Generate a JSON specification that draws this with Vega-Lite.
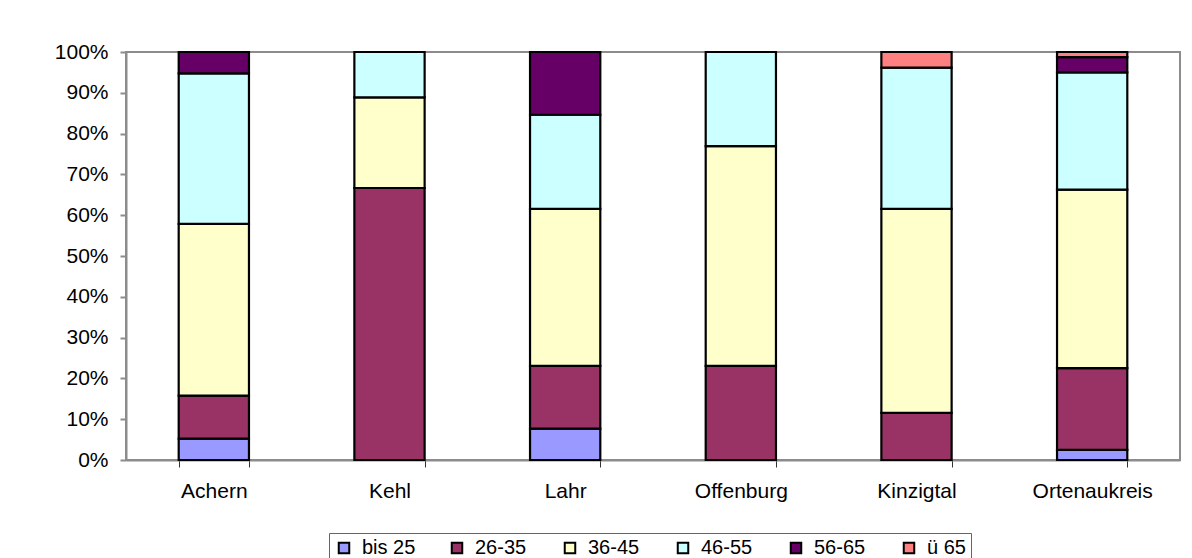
{
  "$schema": "https://vega.github.io/schema/vega-lite/v6.json",
  "width": 1054,
  "height": 408,
  "autosize": "none",
  "padding": {"left": 126, "top": 52, "right": 12, "bottom": 98},
  "background": "white",
  "datasets": {
    "gruppen": [
      {"Altersgruppe": "bis 25", "Rang": 1},
      {"Altersgruppe": "26-35", "Rang": 2},
      {"Altersgruppe": "36-45", "Rang": 3},
      {"Altersgruppe": "46-55", "Rang": 4},
      {"Altersgruppe": "56-65", "Rang": 5},
      {"Altersgruppe": "ü 65", "Rang": 6}
    ],
    "teilnehmer": [
      {"Region": "Achern", "Altersgruppe": "bis 25", "Anzahl": 1},
      {"Region": "Achern", "Altersgruppe": "26-35", "Anzahl": 2},
      {"Region": "Achern", "Altersgruppe": "36-45", "Anzahl": 8},
      {"Region": "Achern", "Altersgruppe": "46-55", "Anzahl": 7},
      {"Region": "Achern", "Altersgruppe": "56-65", "Anzahl": 1},
      {"Region": "Kehl", "Altersgruppe": "26-35", "Anzahl": 6},
      {"Region": "Kehl", "Altersgruppe": "36-45", "Anzahl": 2},
      {"Region": "Kehl", "Altersgruppe": "46-55", "Anzahl": 1},
      {"Region": "Lahr", "Altersgruppe": "bis 25", "Anzahl": 1},
      {"Region": "Lahr", "Altersgruppe": "26-35", "Anzahl": 2},
      {"Region": "Lahr", "Altersgruppe": "36-45", "Anzahl": 5},
      {"Region": "Lahr", "Altersgruppe": "46-55", "Anzahl": 3},
      {"Region": "Lahr", "Altersgruppe": "56-65", "Anzahl": 2},
      {"Region": "Offenburg", "Altersgruppe": "26-35", "Anzahl": 3},
      {"Region": "Offenburg", "Altersgruppe": "36-45", "Anzahl": 7},
      {"Region": "Offenburg", "Altersgruppe": "46-55", "Anzahl": 3},
      {"Region": "Kinzigtal", "Altersgruppe": "26-35", "Anzahl": 3},
      {"Region": "Kinzigtal", "Altersgruppe": "36-45", "Anzahl": 13},
      {"Region": "Kinzigtal", "Altersgruppe": "46-55", "Anzahl": 9},
      {"Region": "Kinzigtal", "Altersgruppe": "ü 65", "Anzahl": 1},
      {"Region": "Ortenaukreis", "Altersgruppe": "bis 25", "Anzahl": 2},
      {"Region": "Ortenaukreis", "Altersgruppe": "26-35", "Anzahl": 16},
      {"Region": "Ortenaukreis", "Altersgruppe": "36-45", "Anzahl": 35},
      {"Region": "Ortenaukreis", "Altersgruppe": "46-55", "Anzahl": 23},
      {"Region": "Ortenaukreis", "Altersgruppe": "56-65", "Anzahl": 3},
      {"Region": "Ortenaukreis", "Altersgruppe": "ü 65", "Anzahl": 1}
    ]
  },
  "data": {"name": "teilnehmer"},
  "transform": [
    {
      "lookup": "Altersgruppe",
      "from": {"data": {"name": "gruppen"}, "key": "Altersgruppe", "fields": ["Rang"]}
    }
  ],
  "mark": {"type": "bar", "stroke": "black", "strokeWidth": 2.2, "opacity": 1},
  "encoding": {
    "x": {
      "field": "Region",
      "type": "nominal",
      "sort": ["Achern", "Kehl", "Lahr", "Offenburg", "Kinzigtal", "Ortenaukreis"],
      "scale": {"paddingInner": 0.6, "paddingOuter": 0.3},
      "axis": {
        "title": null,
        "labelAngle": 0,
        "tickBand": "extent",
        "labelFontSize": 21,
        "labelColor": "black",
        "labelPadding": 13,
        "domainColor": "#8c8c8c",
        "domainWidth": 2,
        "tickColor": "#333333",
        "tickWidth": 1,
        "tickSize": 7,
        "grid": false
      }
    },
    "y": {
      "field": "Anzahl",
      "type": "quantitative",
      "stack": "normalize",
      "scale": {"domain": [0, 1]},
      "axis": {
        "title": null,
        "format": ".0%",
        "values": [0, 0.1, 0.2, 0.3, 0.4, 0.5, 0.6, 0.7, 0.8, 0.9, 1],
        "labelFontSize": 21,
        "labelColor": "black",
        "labelPadding": 12,
        "domainColor": "#8c8c8c",
        "domainWidth": 2,
        "tickColor": "#8c8c8c",
        "tickWidth": 2,
        "tickSize": 6,
        "grid": false
      }
    },
    "order": {"field": "Rang", "type": "quantitative", "sort": "ascending"},
    "color": {
      "field": "Altersgruppe",
      "type": "nominal",
      "scale": {
        "domain": ["bis 25", "26-35", "36-45", "46-55", "56-65", "ü 65"],
        "range": ["#9999FF", "#993366", "#FFFFCC", "#CCFFFF", "#660066", "#FF8080"]
      },
      "legend": {
        "title": null,
        "orient": "none",
        "legendX": 203,
        "legendY": 481,
        "direction": "horizontal",
        "columns": 6,
        "gridAlign": "all",
        "symbolType": "square",
        "symbolSize": 110,
        "symbolStrokeColor": "black",
        "symbolStrokeWidth": 2,
        "symbolOpacity": 1,
        "labelFontSize": 20,
        "labelColor": "black",
        "labelOffset": 8,
        "columnPadding": 31,
        "padding": 5,
        "strokeColor": "#666666",
        "fillColor": "white"
      }
    }
  },
  "config": {
    "font": "Liberation Sans",
    "view": {"stroke": "#8c8c8c", "strokeWidth": 2}
  }
}
